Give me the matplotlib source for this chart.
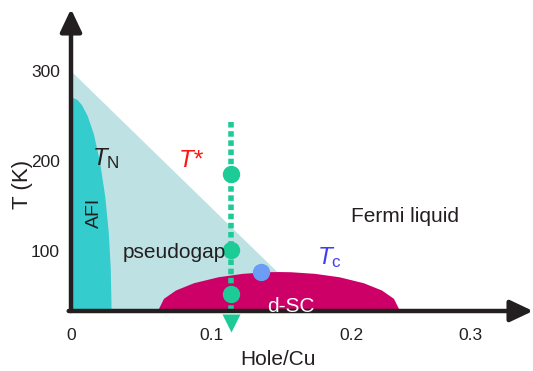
import matplotlib
matplotlib.use("Agg")
import matplotlib.pyplot as plt

plt.rcParams['font.family'] = ['Liberation Sans', 'DejaVu Sans']
plt.rcParams['mathtext.fontset'] = 'custom'
plt.rcParams['mathtext.rm'] = 'Liberation Sans'
plt.rcParams['mathtext.it'] = 'Liberation Sans:italic'

# schematic phase diagram (x = hole/Cu, y = T in K)
t_floor = 33.3
t_top = 369

pg_x = [0.0, 0.0, 0.176]          # pseudogap triangle (T* line)
pg_t = [t_floor, 300, t_floor]

afi_x = [0.0, 0.0046, 0.0079, 0.0119, 0.0163, 0.0206, 0.0245, 0.027, 0.0284, 0.029, 0.0]
afi_t = [271, 268, 262, 250, 230, 200, 160, 120, 80, t_floor, t_floor]

dsc_x = [0.0621, 0.0664, 0.0750, 0.0879, 0.1054, 0.1227, 0.1399, 0.1486,
         0.1571, 0.1743, 0.1918, 0.2091, 0.2221, 0.2307, 0.2350]
dsc_t = [t_floor, 46.8, 56.1, 64.2, 70.8, 74.6, 76.4, 76.6,
         76.4, 74.6, 70.8, 64.2, 56.1, 46.8, t_floor]

cut_x = 0.114
cut_t = [243, 31]
cut_pts_t = [185.6, 101.1, 52.2]
cut_head_t = 20

tc_pt = (0.136, 76.7)

xticks = [0, 0.1, 0.2, 0.285]
xticklabels = ['0', '0.1', '0.2', '0.3']
yticks = [100, 200, 300]

ink = '#231f20'
c_pg = '#bee2e4'
c_afi = '#34cccc'
c_dsc = '#cc0066'
c_cut = '#1ccb95'
c_tc = '#6b9cf6'

fig = plt.figure(figsize=(5.33, 3.71), dpi=100)
ax = fig.add_axes([71 / 533, 60 / 371, 462 / 533, 302 / 371])
ax.set_xlim(0, 0.33)
ax.set_ylim(t_floor, t_top)

ax.fill(pg_x, pg_t, color=c_pg, lw=0, zorder=1)
ax.fill(afi_x, afi_t, color=c_afi, lw=0, zorder=2)
ax.fill(dsc_x, dsc_t, color=c_dsc, lw=0, zorder=3)

# doping cut with arrow
ax.plot([cut_x, cut_x], cut_t, color=c_cut, lw=4, ls=(0, (1.0, 0.65)),
        dash_capstyle='butt', zorder=4)
ax.plot([cut_x] * len(cut_pts_t), cut_pts_t, 'o', color=c_cut, ms=11.5, zorder=5)
ax.plot([cut_x], [cut_head_t], 'v', color=c_cut, ms=13, mec='none', clip_on=False, zorder=5)
ax.plot([tc_pt[0]], [tc_pt[1]], 'o', color=c_tc, ms=11.5, zorder=5)

# axes with arrow heads
for spine in ax.spines.values():
    spine.set_visible(False)
arrow = dict(arrowstyle='-|>,head_length=0.95,head_width=0.45', lw=3.2,
             color=ink, shrinkA=0, shrinkB=0, mutation_scale=14.5)
ax.annotate('', xy=(0, 1), xytext=(0, 0), xycoords='axes fraction',
            arrowprops=arrow, zorder=6, annotation_clip=False)
ax.annotate('', xy=(1, 0), xytext=(-0.005, 0), xycoords='axes fraction',
            arrowprops=arrow, zorder=6, annotation_clip=False)

ax.set_xticks(xticks, xticklabels)
ax.set_yticks(yticks)
ax.tick_params(length=0, labelsize=12.5, colors=ink)
ax.tick_params(axis='x', pad=12)
ax.tick_params(axis='y', pad=8)

ax.set_xlabel('Hole/Cu', fontsize=15, color=ink)
ax.xaxis.set_label_coords(0.448, -0.13)
ax.set_ylabel('T (K)', fontsize=16, color=ink)
ax.yaxis.set_label_coords(-0.082, 0.42)

# region and line labels
ax.text(0.015, 195.6, r'$T_{\mathrm{N}}$', fontsize=17.5, color=ink, zorder=7)
ax.text(0.0767, 193, 'T*', fontsize=17.5, style='italic', color='#ff1414', zorder=7)
ax.text(0.176, 85.6, r'$T_{\mathrm{c}}$', fontsize=17.5, color='#3f3ff0', zorder=7)
ax.text(0.0164, 142, 'AFI', fontsize=14, rotation=90, ha='center', va='center',
        color=ink, zorder=7)
ax.text(0.074, 92.2, 'pseudogap', fontsize=15, ha='center', color=ink, zorder=7)
ax.text(0.2386, 132.2, 'Fermi liquid', fontsize=15, ha='center', color=ink, zorder=7)
ax.text(0.157, 32.5, 'd-SC', fontsize=15, ha='center', color='white', zorder=8)

fig.savefig('out.png', dpi=100)
